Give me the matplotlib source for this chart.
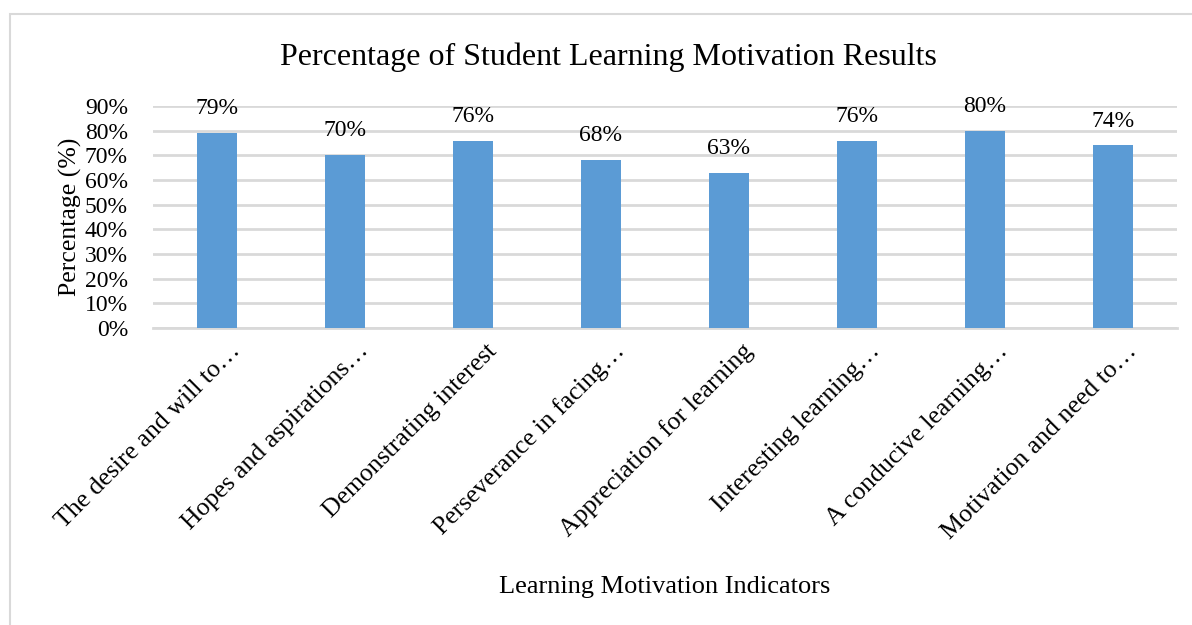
import matplotlib
matplotlib.use("Agg")
import matplotlib.pyplot as plt
import matplotlib.transforms as mtransforms
from matplotlib.patches import Rectangle
from matplotlib.ticker import FuncFormatter

# chart data
indicators = [
    "The desire and will to\u2026",
    "Hopes and aspirations\u2026",
    "Demonstrating interest",
    "Perseverance in facing\u2026",
    "Appreciation for learning",
    "Interesting learning\u2026",
    "A conducive learning\u2026",
    "Motivation and need to\u2026",
]
percentages = [79, 70, 76, 68, 63, 76, 80, 74]
y_ticks = [0, 10, 20, 30, 40, 50, 60, 70, 80, 90]

plt.rcParams['font.family'] = ['Liberation Serif', 'DejaVu Serif']

fig = plt.figure(figsize=(11.92, 6.25), dpi=100)
W, H = 1192, 625

# chart outer border (light gray)
fig.patches.append(Rectangle((10 / W, -0.1), 1.2, 1 - 14 / H + 0.1,
                             transform=fig.transFigure, fill=False,
                             edgecolor='#D9D9D9', linewidth=1.5))

ax = fig.add_axes([153 / W, 1 - 328 / H, 1024 / W, 222 / H])

x = range(len(indicators))
ax.bar(x, percentages, width=0.31, color='#5B9BD5', zorder=3)
for xi, v in zip(x, percentages):
    ax.annotate(f"{v}%", (xi, v), xytext=(0, 10), textcoords='offset points',
                ha='center', va='bottom', fontsize=17)

ax.set_xlim(-0.5, len(indicators) - 0.5)
ax.set_ylim(0, 90)
ax.set_yticks(y_ticks)
ax.yaxis.set_major_formatter(FuncFormatter(lambda v, p: f"{v:.0f}%"))
ax.grid(axis='y', color='#D9D9D9', linewidth=2, zorder=0)
for s in ['top', 'right', 'left']:
    ax.spines[s].set_visible(False)
ax.spines['bottom'].set_color('#D9D9D9')
ax.spines['bottom'].set_linewidth(2)
ax.tick_params(axis='y', length=0, labelsize=17, pad=18)
ax.tick_params(axis='x', length=0, labelsize=18.5, pad=4)

ax.set_xticks(list(x))
ax.set_xticklabels(indicators, rotation=45, ha='right', va='center',
                   rotation_mode='anchor')
offset = mtransforms.ScaledTranslation(20 / 100, -14 / 100, fig.dpi_scale_trans)
for lbl in ax.get_xticklabels():
    lbl.set_transform(lbl.get_transform() + offset)

ax.set_ylabel("Percentage (%)", fontsize=18.5, labelpad=2)
fig.text((153 + 1024 / 2) / W, 1 - 587 / H, "Learning Motivation Indicators",
         ha='center', va='center', fontsize=19)
fig.text(608 / W, 1 - 57 / H, "Percentage of Student Learning Motivation Results",
         ha='center', va='center', fontsize=23)

fig.savefig("out.png", dpi=100)
